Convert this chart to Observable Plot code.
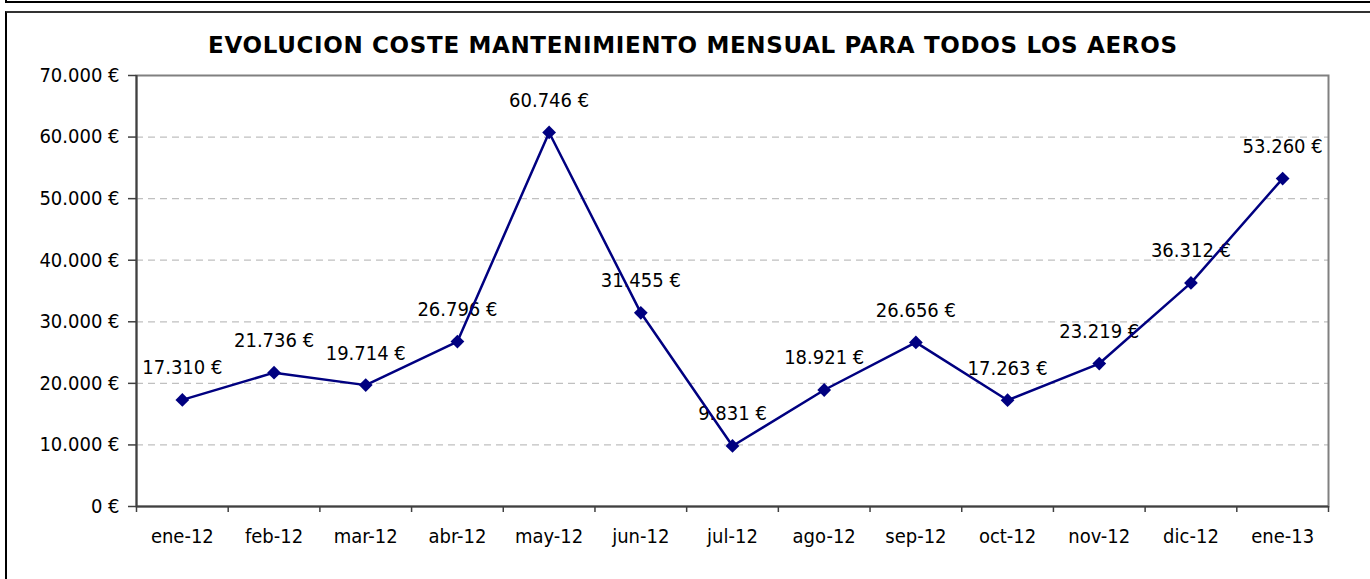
<!DOCTYPE html>
<html>
<head>
<meta charset="utf-8">
<script src="https://cdn.jsdelivr.net/npm/d3@7"></script>
<script src="https://cdn.jsdelivr.net/npm/@observablehq/plot@0.6"></script>
<style>
  html, body { margin: 0; padding: 0; background: #fff; overflow: hidden; }
  #wrap { position: relative; width: 1370px; height: 579px; overflow: hidden; }
  #wrap svg { position: absolute; left: 0; top: 0; }
  .box1 { position: absolute; left: 5px; top: -17px; width: 1400px; height: 20px; border: 2px solid #000; box-sizing: border-box; }
  .box2 { position: absolute; left: 5px; top: 11px; width: 1400px; height: 600px; border-left: 2px solid #000; border-top: 2px solid #333; box-sizing: border-box; }
</style>
</head>
<body>
<div id="wrap">
  <div class="box1"></div>
  <div class="box2"></div>
</div>
<script>
const title = "EVOLUCION COSTE MANTENIMIENTO MENSUAL PARA TODOS LOS AEROS";
const months = ["ene-12","feb-12","mar-12","abr-12","may-12","jun-12","jul-12","ago-12","sep-12","oct-12","nov-12","dic-12","ene-13"];
const costs = [17310, 21736, 19714, 26796, 60746, 31455, 9831, 18921, 26656, 17263, 23219, 36312, 53260];
const yTicks = [0, 10000, 20000, 30000, 40000, 50000, 60000, 70000];

const fmt = d => d3.format(",")(d).replace(/,/g, ".") + " €";
const data = months.map((m, i) => ({idx: i + 0.5, m, v: costs[i]}));

const plot = Plot.plot({
  width: 1370, height: 579,
  marginLeft: 136, marginRight: 42, marginTop: 75, marginBottom: 73,
  style: {fontFamily: "'DejaVu Sans Condensed', 'DejaVu Sans', sans-serif", fontSize: "20px", color: "#000", background: "transparent", overflow: "visible"},
  x: {domain: [0, months.length], axis: null},
  y: {domain: [0, 70000], axis: null},
  marks: [
    Plot.ruleY(yTicks.slice(1), {stroke: "#c0c0c0", strokeDasharray: "7,5", strokeWidth: 1.2}),
    Plot.frame({stroke: "#808080", strokeWidth: 2}),
    Plot.axisY({ticks: yTicks, tickFormat: fmt, tickSize: 8, tickPadding: 9, stroke: "#404040", strokeWidth: 1.5, fill: "#000", fontSize: 20, label: null}),
    Plot.axisX({ticks: d3.range(months.length + 1), tickFormat: () => "", tickSize: 6, stroke: "#404040", strokeWidth: 1.5, label: null}),
    Plot.ruleX([0], {stroke: "#404040", strokeWidth: 2}),
    Plot.ruleY([0], {stroke: "#404040", strokeWidth: 2}),
    Plot.text(data, {x: "idx", text: "m", frameAnchor: "bottom", dy: 30.5, lineAnchor: "middle", fill: "#000", fontSize: 20}),
    Plot.text(data, {x: "idx", y: "v", text: d => fmt(d.v), dy: -32, lineAnchor: "middle", fill: "#000", fontSize: 20}),
    Plot.line(data, {x: "idx", y: "v", stroke: "#000080", strokeWidth: 2.5}),
    Plot.dot(data, {x: "idx", y: "v", symbol: "diamond2", r: 6.2, fill: "#000080", stroke: "none"}),
    Plot.text([title], {frameAnchor: "top", dy: -30, dx: -40, fontWeight: "bold", fontSize: 23, fontFamily: "'DejaVu Sans', sans-serif", lineAnchor: "middle", fill: "#000"})
  ]
});

document.getElementById("wrap").prepend(plot);
plot.querySelectorAll("text").forEach(t => {
  if (t.textContent === title) {
    t.setAttribute("textLength", "969");
    t.setAttribute("lengthAdjust", "spacing");
  }
});
</script>
</body>
</html>
